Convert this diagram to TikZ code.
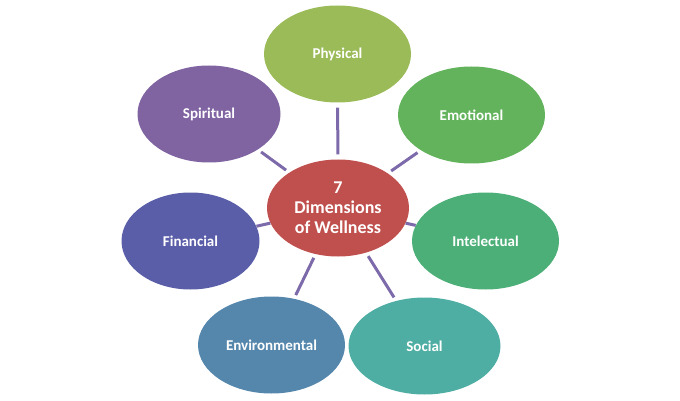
\documentclass[tikz,border=0pt]{standalone}
\usepackage{fontspec}
\setmainfont{Carlito}
\usetikzlibrary{shapes.geometric}
\definecolor{Hub}{HTML}{C0504D}
\definecolor{Olive}{HTML}{9BBB59}
\definecolor{Leaf}{HTML}{62B35C}
\definecolor{Jade}{HTML}{4DAF78}
\definecolor{Sea}{HTML}{4FAEA3}
\definecolor{Steel}{HTML}{5587AD}
\definecolor{Indigo}{HTML}{5A5EA8}
\definecolor{Violet}{HTML}{8064A2}
\definecolor{Spoke}{HTML}{7D6AAA}

\begin{document}
\begin{tikzpicture}[x=1pt,y=-1pt,
    dimbox/.style={ellipse,inner sep=0pt,minimum width=147pt,minimum height=97pt,text=white,font=\fontsize{15}{17}\selectfont\bfseries},
    spoke/.style={draw=Spoke,line width=3pt}
  ]
    \useasboundingbox (0,0) rectangle (680,401);
    % outer ring
    \node[dimbox,fill=Olive] (phys) at (337.5,54) {Physical};
    \node[dimbox,fill=Leaf] (emot) at (471.5,115) {Emotional};
    \node[dimbox,fill=Jade] (intel) at (485.5,241) {Intelectual};
    \node[dimbox,fill=Sea,minimum width=152pt] (soc) at (424.5,346) {Social};
    \node[dimbox,fill=Steel] (env) at (271.5,345) {Environmental};
    \node[dimbox,fill=Indigo,minimum width=138pt] (fin) at (190.5,241) {Financial};
    \node[dimbox,fill=Violet,minimum width=143pt] (spir) at (209,114) {Spiritual};
    % centre
    \node[dimbox,fill=Hub,minimum width=142pt,align=center,font=\fontsize{18}{20}\selectfont\bfseries] (hub) at (338,208) {7\\Dimensions\\of Wellness};
    \foreach \n/\s in {phys/5,emot/4,intel/0,soc/4,env/4,fin/0,spir/4}
      \draw[spoke,shorten <=\s pt,shorten >=\s pt] (hub) -- (\n);
  \end{tikzpicture}
\end{document}
